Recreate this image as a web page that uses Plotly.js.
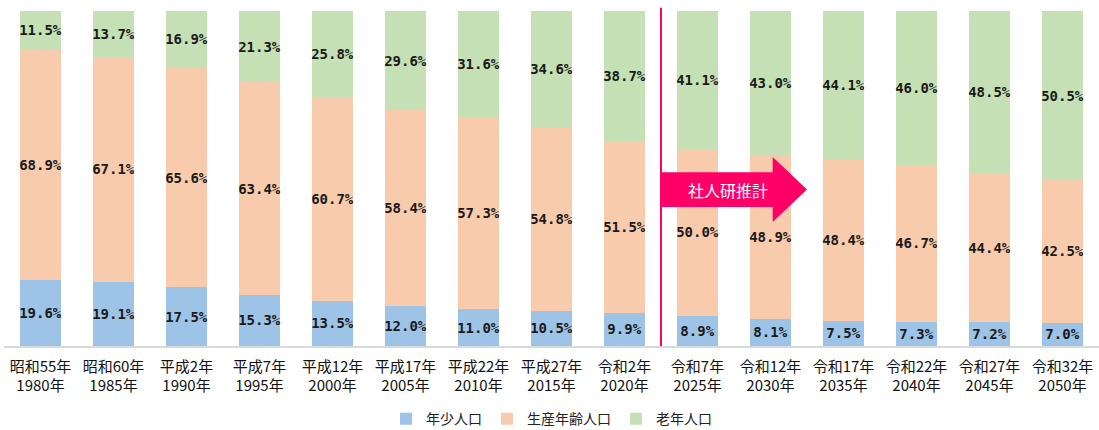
<!DOCTYPE html>
<html><head><meta charset="utf-8">
<script src="https://cdn.plot.ly/plotly-3.0.1.min.js"></script>
<style>html,body{margin:0;padding:0;background:#fff}#chart{width:1099px;height:430px}</style>
</head><body><div id="chart"></div>
<script>
const categories = ['昭和55年<br>1980年','昭和60年<br>1985年','平成2年<br>1990年','平成7年<br>1995年','平成12年<br>2000年','平成17年<br>2005年','平成22年<br>2010年','平成27年<br>2015年','令和2年<br>2020年','令和7年<br>2025年','令和12年<br>2030年','令和17年<br>2035年','令和22年<br>2040年','令和27年<br>2045年','令和32年<br>2050年'];
const young   = [19.6,19.1,17.5,15.3,13.5,12.0,11.0,10.5,9.9,8.9,8.1,7.5,7.3,7.2,7.0];
const working = [68.9,67.1,65.6,63.4,60.7,58.4,57.3,54.8,51.5,50.0,48.9,48.4,46.7,44.4,42.5];
const elderly = [11.5,13.7,16.9,21.3,25.8,29.6,31.6,34.6,38.7,41.1,43.0,44.1,46.0,48.5,50.5];
const seriesNames = ['年少人口','生産年齢人口','老年人口'];
const projectionLabel = '社人研推計';
const projectionStartIndex = 9;

const colors = ['#9DC3E6','#F8CBAD','#C5E0B4'];
const xs = categories.map((c,i)=>i);
function mk(vals, name, color){
  return {
    type:'bar', x:xs, y:vals, name:name,
    marker:{color:color, line:{width:0}},
    text: vals.map(v=>v.toFixed(1)+'%'),
    texttemplate:'%{text}', textposition:'inside', insidetextanchor:'middle',
    textangle:0, constraintext:'none',
    textfont:{family:'DejaVu Sans Mono', size:14, color:'#1a1a1a', weight:'bold'},
    hoverinfo:'skip'
  };
}
const data = [mk(young,seriesNames[0],colors[0]), mk(working,seriesNames[1],colors[1]), mk(elderly,seriesNames[2],colors[2])];

const n = categories.length;
const px = d => (d+0.5)/n; // data x -> paper x
const lineX = projectionStartIndex - 0.5;
const x0 = px(lineX), xb = px(lineX+1.53), xt = px(lineX+2.0);
const yBt=0.519, yBb=0.415, yHt=0.564, yHb=0.370, yTip=0.467;
const arrowPath = `M${x0},${yBb} L${x0},${yBt} L${xb},${yBt} L${xb},${yHt} L${xt},${yTip} L${xb},${yHb} L${xb},${yBb} Z`;

const layout = {
  width:1099, height:430,
  margin:{l:4, r:0, t:11, b:84, autoexpand:false},
  paper_bgcolor:'#fff', plot_bgcolor:'#fff',
  barmode:'stack', barnorm:'percent', bargap:0.45,
  showlegend:true,
  legend:{orientation:'h', x:0.5, xanchor:'center', yref:'container', y:0.025, yanchor:'middle',
    font:{family:'Noto Sans CJK JP', size:14, color:'#222'}, itemwidth:30, traceorder:'normal'},
  xaxis:{type:'linear', range:[-0.5, n-0.5], tickmode:'array', tickvals:xs, ticktext:categories,
    showgrid:false, zeroline:false, showline:true, linecolor:'#d9d9d9', linewidth:1.5,
    ticks:'', ticklabelstandoff:6,
    tickfont:{family:'Noto Sans CJK JP', size:15, color:'#111'}, fixedrange:true},
  yaxis:{range:[0,100], visible:false, showgrid:false, zeroline:false, fixedrange:true},
  shapes:[
    {type:'line', xref:'paper', yref:'paper', x0:px(lineX), x1:px(lineX), y0:0, y1:1.01,
     line:{color:'#FF0066', width:2}, layer:'above'},
    {type:'path', xref:'paper', yref:'paper', path:arrowPath,
     fillcolor:'#FF0066', line:{width:0}, layer:'above'}
  ],
  annotations:[
    {xref:'paper', yref:'paper', x:px(lineX+0.92), y:yTip, text:projectionLabel, showarrow:false,
     xanchor:'center', yanchor:'middle', font:{family:'Noto Sans CJK JP', size:16, color:'#fff'}}
  ]
};
Plotly.newPlot('chart', data, layout, {displayModeBar:false, staticPlot:true});
</script></body></html>
